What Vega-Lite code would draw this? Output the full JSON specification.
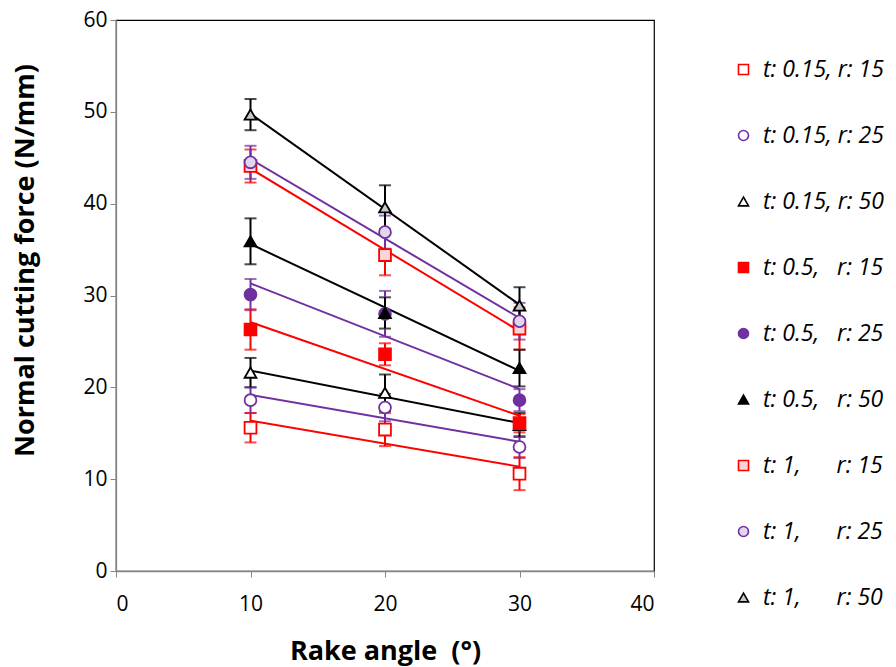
{
  "$schema": "https://vega.github.io/schema/vega-lite/v6.json",
  "autosize": "none",
  "width": 538,
  "height": 551,
  "padding": {"left": 116, "top": 20, "right": 242, "bottom": 96},
  "background": "white",
  "config": {
    "view": {"stroke": "#000000", "strokeWidth": 1.2},
    "font": "Open Sans",
    "axis": {
      "grid": false,
      "domainColor": "#868686",
      "domainWidth": 1.3,
      "tickColor": "#868686",
      "tickSize": 6,
      "labelFont": "Open Sans",
      "labelFontSize": 21,
      "labelColor": "#000000",
      "titleFont": "Open Sans",
      "titleFontSize": 27,
      "titleFontWeight": "bold",
      "titleColor": "#000000"
    },
    "legend": {
      "padding": 0,
      "rowPadding": 42,
      "labelOffset": 8,
      "labelFont": "Open Sans",
      "labelFontSize": 23,
      "labelFontStyle": "italic",
      "labelColor": "#000000",
      "labelLimit": 300,
      "symbolStrokeWidth": 1.6,
      "symbolSize": 100
    }
  },
  "data": {
    "values": [
      {"series": "t: 0.15, r: 15", "angle": 10, "force": 15.6, "err": 1.6},
      {"series": "t: 0.15, r: 15", "angle": 20, "force": 15.4, "err": 1.8},
      {"series": "t: 0.15, r: 15", "angle": 30, "force": 10.6, "err": 1.8},
      {"series": "t: 0.15, r: 25", "angle": 10, "force": 18.6, "err": 1.4},
      {"series": "t: 0.15, r: 25", "angle": 20, "force": 17.8, "err": 1.5},
      {"series": "t: 0.15, r: 25", "angle": 30, "force": 13.5, "err": 1.2},
      {"series": "t: 0.15, r: 50", "angle": 10, "force": 21.6, "err": 1.6},
      {"series": "t: 0.15, r: 50", "angle": 20, "force": 19.4, "err": 2.0},
      {"series": "t: 0.15, r: 50", "angle": 30, "force": 15.9, "err": 1.3},
      {"series": "t: 0.5,\u00a0\u00a0 r: 15", "angle": 10, "force": 26.3, "err": 2.2},
      {"series": "t: 0.5,\u00a0\u00a0 r: 15", "angle": 20, "force": 23.6, "err": 1.2},
      {"series": "t: 0.5,\u00a0\u00a0 r: 15", "angle": 30, "force": 16.1, "err": 1.0},
      {"series": "t: 0.5,\u00a0\u00a0 r: 25", "angle": 10, "force": 30.1, "err": 1.7},
      {"series": "t: 0.5,\u00a0\u00a0 r: 25", "angle": 20, "force": 28.0, "err": 2.5},
      {"series": "t: 0.5,\u00a0\u00a0 r: 25", "angle": 30, "force": 18.6, "err": 1.2},
      {"series": "t: 0.5,\u00a0\u00a0 r: 50", "angle": 10, "force": 35.9, "err": 2.5},
      {"series": "t: 0.5,\u00a0\u00a0 r: 50", "angle": 20, "force": 28.1, "err": 1.7},
      {"series": "t: 0.5,\u00a0\u00a0 r: 50", "angle": 30, "force": 22.1, "err": 2.0},
      {"series": "t: 1,\u00a0\u00a0\u00a0\u00a0\u00a0 r: 15", "angle": 10, "force": 44.1, "err": 1.8},
      {"series": "t: 1,\u00a0\u00a0\u00a0\u00a0\u00a0 r: 15", "angle": 20, "force": 34.4, "err": 2.2},
      {"series": "t: 1,\u00a0\u00a0\u00a0\u00a0\u00a0 r: 15", "angle": 30, "force": 26.4, "err": 2.3},
      {"series": "t: 1,\u00a0\u00a0\u00a0\u00a0\u00a0 r: 25", "angle": 10, "force": 44.5, "err": 1.8},
      {"series": "t: 1,\u00a0\u00a0\u00a0\u00a0\u00a0 r: 25", "angle": 20, "force": 36.9, "err": 1.8},
      {"series": "t: 1,\u00a0\u00a0\u00a0\u00a0\u00a0 r: 25", "angle": 30, "force": 27.2, "err": 2.0},
      {"series": "t: 1,\u00a0\u00a0\u00a0\u00a0\u00a0 r: 50", "angle": 10, "force": 49.7, "err": 1.7},
      {"series": "t: 1,\u00a0\u00a0\u00a0\u00a0\u00a0 r: 50", "angle": 20, "force": 39.6, "err": 2.4},
      {"series": "t: 1,\u00a0\u00a0\u00a0\u00a0\u00a0 r: 50", "angle": 30, "force": 28.9, "err": 2.0}
    ]
  },
  "encoding": {
    "x": {
      "field": "angle",
      "type": "quantitative",
      "scale": {"domain": [0, 40], "nice": false},
      "axis": {"values": [0, 10, 20, 30, 40], "title": "Rake angle\u00a0\u00a0(°)", "labelPadding": 16, "titlePadding": 24}
    },
    "y": {
      "field": "force",
      "type": "quantitative",
      "scale": {"domain": [0, 60], "nice": false},
      "axis": {"values": [0, 10, 20, 30, 40, 50, 60], "title": "Normal cutting force (N/mm)", "labelPadding": 3, "titlePadding": 43, "titleY": 240}
    }
  },
  "layer": [
    {
      "mark": {"type": "errorbar", "ticks": {"size": 12, "thickness": 2}, "thickness": 2},
      "encoding": {
        "yError": {"field": "err"},
        "color": {
          "field": "series",
          "type": "nominal",
          "legend": null,
          "scale": {
            "domain": ["t: 0.15, r: 15", "t: 0.5,\u00a0\u00a0 r: 15", "t: 1,\u00a0\u00a0\u00a0\u00a0\u00a0 r: 15", "t: 0.15, r: 25", "t: 0.5,\u00a0\u00a0 r: 25", "t: 1,\u00a0\u00a0\u00a0\u00a0\u00a0 r: 25", "t: 0.15, r: 50", "t: 0.5,\u00a0\u00a0 r: 50", "t: 1,\u00a0\u00a0\u00a0\u00a0\u00a0 r: 50"],
            "range": ["#ff0000", "#ff0000", "#ff0000", "#7030a0", "#7030a0", "#7030a0", "#000000", "#000000", "#000000"]
          }
        }
      }
    },
    {
      "transform": [{"regression": "force", "on": "angle", "groupby": ["series"]}],
      "mark": {"type": "line", "strokeWidth": 2},
      "encoding": {
        "color": {"field": "series", "type": "nominal", "legend": null}
      }
    },
    {
      "mark": {"type": "point", "filled": true, "size": 140, "strokeWidth": 1.8, "opacity": 1},
      "encoding": {
        "shape": {
          "field": "series",
          "type": "nominal",
          "title": null,
          "scale": {
            "domain": ["t: 0.15, r: 15", "t: 0.15, r: 25", "t: 0.15, r: 50", "t: 0.5,\u00a0\u00a0 r: 15", "t: 0.5,\u00a0\u00a0 r: 25", "t: 0.5,\u00a0\u00a0 r: 50", "t: 1,\u00a0\u00a0\u00a0\u00a0\u00a0 r: 15", "t: 1,\u00a0\u00a0\u00a0\u00a0\u00a0 r: 25", "t: 1,\u00a0\u00a0\u00a0\u00a0\u00a0 r: 50"],
            "range": ["square", "circle", "triangle-up", "square", "circle", "triangle-up", "square", "circle", "triangle-up"]
          },
          "legend": {
            "orient": "none",
            "legendX": 616,
            "legendY": 38
          }
        },
        "stroke": {
          "field": "series",
          "type": "nominal",
          "title": null,
          "scale": {
            "domain": ["t: 0.15, r: 15", "t: 0.15, r: 25", "t: 0.15, r: 50", "t: 0.5,\u00a0\u00a0 r: 15", "t: 0.5,\u00a0\u00a0 r: 25", "t: 0.5,\u00a0\u00a0 r: 50", "t: 1,\u00a0\u00a0\u00a0\u00a0\u00a0 r: 15", "t: 1,\u00a0\u00a0\u00a0\u00a0\u00a0 r: 25", "t: 1,\u00a0\u00a0\u00a0\u00a0\u00a0 r: 50"],
            "range": ["#ff0000", "#7030a0", "#000000", "#ff0000", "#7030a0", "#000000", "#ff0000", "#7030a0", "#000000"]
          }
        },
        "fill": {
          "field": "series",
          "type": "nominal",
          "title": null,
          "scale": {
            "domain": ["t: 0.15, r: 15", "t: 0.15, r: 25", "t: 0.15, r: 50", "t: 0.5,\u00a0\u00a0 r: 15", "t: 0.5,\u00a0\u00a0 r: 25", "t: 0.5,\u00a0\u00a0 r: 50", "t: 1,\u00a0\u00a0\u00a0\u00a0\u00a0 r: 15", "t: 1,\u00a0\u00a0\u00a0\u00a0\u00a0 r: 25", "t: 1,\u00a0\u00a0\u00a0\u00a0\u00a0 r: 50"],
            "range": ["#ffffff", "#ffffff", "#ffffff", "#ff0000", "#7030a0", "#000000", "#fbd5d5", "#e2d5ee", "#c8c8c8"]
          }
        }
      }
    }
  ]
}
